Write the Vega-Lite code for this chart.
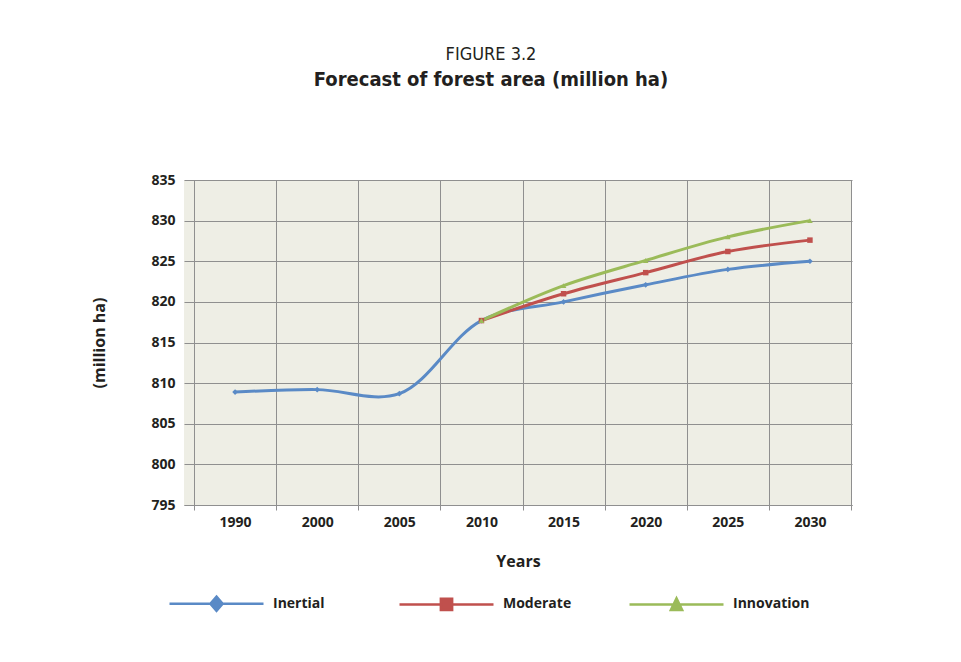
{
  "$schema": "https://vega.github.io/schema/vega-lite/v6.json",
  "width": 668,
  "height": 325,
  "autosize": {"type": "none"},
  "padding": {"left": 184, "top": 180, "right": 109, "bottom": 157},
  "background": "white",
  "title": {
    "text": "FIGURE 3.2",
    "subtitle": "Forecast of forest area (million ha)",
    "anchor": "middle",
    "frame": "group",
    "dx": -27,
    "offset": 83,
    "font": "Liberation Sans Narrow, DejaVu Sans Condensed, sans-serif",
    "fontSize": 18,
    "fontWeight": "normal",
    "color": "#231f20",
    "subtitleFont": "Liberation Sans Narrow, DejaVu Sans Condensed, sans-serif",
    "subtitleFontSize": 20,
    "subtitleFontWeight": "bold",
    "subtitleColor": "#231f20",
    "subtitlePadding": 6
  },
  "config": {
    "view": {"fill": "#eeeee5", "stroke": null},
    "font": "Open Sans"
  },
  "data": {
    "values": [
      {"series": "Inertial", "year": "1990", "value": 808.9},
      {"series": "Inertial", "year": "2000", "value": 809.2},
      {"series": "Inertial", "year": "2005", "value": 808.7},
      {"series": "Inertial", "year": "2010", "value": 817.7},
      {"series": "Inertial", "year": "2015", "value": 820.0},
      {"series": "Inertial", "year": "2020", "value": 822.1},
      {"series": "Inertial", "year": "2025", "value": 824.0},
      {"series": "Inertial", "year": "2030", "value": 825.0},
      {"series": "Moderate", "year": "2010", "value": 817.7},
      {"series": "Moderate", "year": "2015", "value": 821.0},
      {"series": "Moderate", "year": "2020", "value": 823.6},
      {"series": "Moderate", "year": "2025", "value": 826.2},
      {"series": "Moderate", "year": "2030", "value": 827.6},
      {"series": "Innovation", "year": "2010", "value": 817.7},
      {"series": "Innovation", "year": "2015", "value": 822.0},
      {"series": "Innovation", "year": "2020", "value": 825.1},
      {"series": "Innovation", "year": "2025", "value": 828.0},
      {"series": "Innovation", "year": "2030", "value": 830.0}
    ]
  },
  "encoding": {
    "x": {
      "field": "year",
      "type": "ordinal",
      "sort": ["1990", "2000", "2005", "2010", "2015", "2020", "2025", "2030"],
      "bandPosition": 0.5,
      "scale": {"type": "band", "paddingInner": 0, "paddingOuter": 0.067, "align": 0.91},
      "axis": {
        "title": "Years",
        "titleFont": "Open Sans",
        "titleFontSize": 16,
        "titleFontWeight": "bold",
        "titleColor": "#231f20",
        "titlePadding": 24,
        "labelAngle": 0,
        "labelFont": "Open Sans",
        "labelFontSize": 14,
        "labelFontWeight": "bold",
        "labelColor": "#231f20",
        "labelPadding": 5,
        "tickBand": "extent",
        "grid": true,
        "gridColor": "#8f8f8f",
        "gridWidth": 1,
        "ticks": true,
        "tickSize": 5,
        "tickColor": "#8f8f8f",
        "domain": true,
        "domainColor": "#8f8f8f"
      }
    },
    "y": {
      "field": "value",
      "type": "quantitative",
      "scale": {"domain": [795, 835], "nice": false, "zero": false},
      "axis": {
        "title": "(million ha)",
        "titleFont": "Open Sans",
        "titleFontSize": 16,
        "titleFontWeight": "bold",
        "titleColor": "#231f20",
        "titlePadding": 43,
        "values": [795, 800, 805, 810, 815, 820, 825, 830, 835],
        "labelFont": "Open Sans",
        "labelFontSize": 14,
        "labelFontWeight": "bold",
        "labelColor": "#231f20",
        "labelPadding": 11,
        "offset": -10,
        "grid": true,
        "gridColor": "#8f8f8f",
        "gridWidth": 1,
        "tickSize": 8,
        "tickColor": "#8f8f8f",
        "domain": true,
        "domainColor": "#8f8f8f"
      }
    },
    "color": {
      "field": "series",
      "type": "nominal",
      "scale": {
        "domain": ["Inertial", "Moderate", "Innovation"],
        "range": ["#5a8ac6", "#c0504d", "#9bbb59"]
      },
      "legend": {
        "title": null,
        "orient": "none",
        "direction": "horizontal",
        "legendX": -16,
        "legendY": 375,
        "padding": 0,
        "gridAlign": "all",
        "columnPadding": 44,
        "symbolSize": 8836,
        "symbolStrokeWidth": 2.5,
        "labelFont": "Open Sans",
        "labelFontSize": 14,
        "labelFontWeight": "bold",
        "labelColor": "#231f20",
        "labelOffset": 8,
        "encode": {
          "symbols": {
            "update": {
              "shape": {"signal": "datum.value === 'Inertial' ? 'M-1,0H1M0,-0.15L0.13,0L0,0.15L-0.13,0Z' : datum.value === 'Moderate' ? 'M-1,0H1M-0.12,-0.12H0.12V0.12H-0.12Z' : 'M-1,0H1M0,-0.13L0.12,0.12L-0.12,0.12Z'"},
              "fill": {"signal": "scale('color', datum.value)"},
              "stroke": {"signal": "scale('color', datum.value)"},
              "strokeWidth": {"value": 2.5},
              "size": {"value": 8836},
              "opacity": {"value": 1}
            }
          }
        }
      }
    }
  },
  "layer": [
    {"mark": {"type": "line", "interpolate": "catmull-rom", "strokeWidth": 3}},
    {
      "transform": [{"filter": "datum.series === 'Inertial'"}],
      "mark": {"type": "point", "filled": true, "size": 32, "opacity": 1, "shape": "diamond"}
    },
    {
      "transform": [{"filter": "datum.series === 'Moderate'"}],
      "mark": {"type": "point", "filled": true, "size": 30, "opacity": 1, "shape": "square"}
    },
    {
      "transform": [{"filter": "datum.series === 'Innovation'"}],
      "mark": {"type": "point", "filled": true, "size": 32, "opacity": 1, "shape": "triangle-up"}
    }
  ]
}
